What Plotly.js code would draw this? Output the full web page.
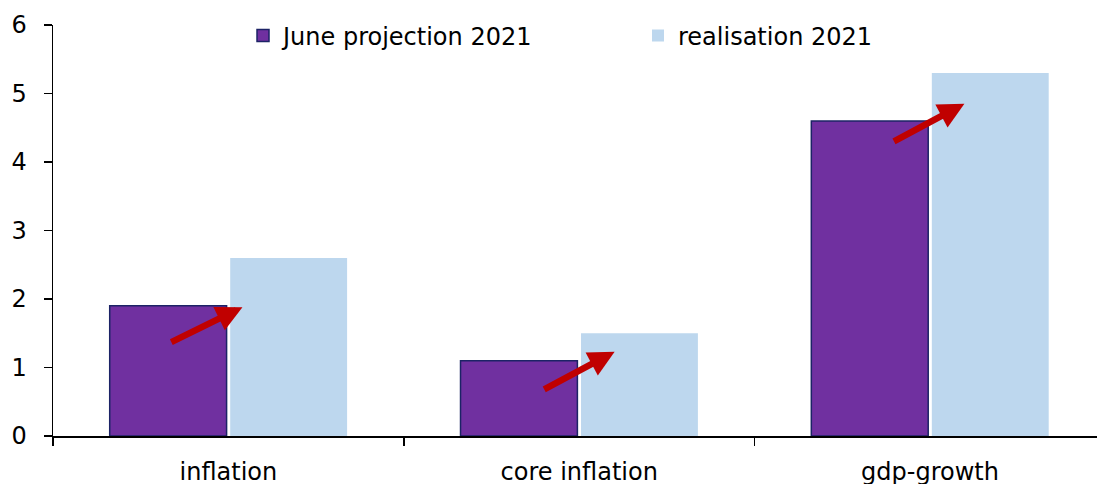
<!DOCTYPE html>
<html>
<head>
<meta charset="utf-8">
<script src="https://cdn.plot.ly/plotly-3.0.1.min.js"></script>
<style>
html,body{margin:0;padding:0;background:#fff;}
#chart{width:1097px;height:484px;}
</style>
</head>
<body>
<div id="chart"></div>
<script>
// Data
const categories = ['inflation', 'core inflation', 'gdp-growth'];
const juneProjection = [1.9, 1.1, 4.6];
const realisation = [2.6, 1.5, 5.3];
const seriesNames = ['June projection 2021', 'realisation 2021'];
const yTicks = [0, 1, 2, 3, 4, 5, 6];
// Arrow annotations: category-index offsets and y values of start and end
const arrowStartX = [-0.167, -0.104, -0.107];
const arrowStartY = [1.36, 0.67, 4.29];
const arrowEndX = [0.04, 0.101, 0.098];
const arrowEndY = [1.88, 1.23, 4.85];

const font = 'DejaVu Sans, Verdana, sans-serif';

const traces = [
  {
    type: 'bar', name: seriesNames[0], x: categories, y: juneProjection,
    marker: {color: '#7030A0', line: {color: '#1C2366', width: 1.5}},
    hoverinfo: 'skip'
  },
  {
    type: 'bar', name: seriesNames[1], x: categories, y: realisation,
    marker: {color: '#BDD7EE', line: {width: 0}},
    hoverinfo: 'skip'
  }
];

const annotations = categories.map((c, i) => ({
  x: i + arrowEndX[i], y: arrowEndY[i],
  ax: i + arrowStartX[i], ay: arrowStartY[i],
  xref: 'x', yref: 'y', axref: 'x', ayref: 'y',
  text: '', showarrow: true,
  arrowhead: 2, arrowsize: 0.8, arrowwidth: 6.5, arrowcolor: '#C00000',
  standoff: 0, startstandoff: 0
}));

const layout = {
  width: 1097, height: 484,
  margin: {l: 53, r: 0, t: 25, b: 48, pad: 0, autoexpand: false},
  paper_bgcolor: '#fff', plot_bgcolor: '#fff',
  font: {family: font, size: 24, color: '#000'},
  barmode: 'group', bargap: 0.313, bargroupgap: 0.03,
  showlegend: true,
  legend: {
    orientation: 'h', x: 0.182, y: 1.028, xanchor: 'left', yanchor: 'top',
    entrywidth: 350, entrywidthmode: 'pixels',
    font: {family: font, size: 24, color: '#000'},
    bgcolor: 'rgba(0,0,0,0)', itemwidth: 30, traceorder: 'normal'
  },
  xaxis: {
    type: 'category', range: [-0.5, 2.476], fixedrange: true,
    showline: true, linecolor: '#000', linewidth: 1.5,
    ticks: 'outside', ticklen: 8, tickwidth: 1.5, tickcolor: '#000',
    tickson: 'boundaries', ticklabelstandoff: 14,
    tickfont: {family: font, size: 24, color: '#000'},
    showgrid: false, zeroline: false
  },
  yaxis: {
    range: [0, 6], tickvals: yTicks, fixedrange: true,
    showline: true, linecolor: '#000', linewidth: 1.5,
    ticks: 'outside', ticklen: 8, tickwidth: 1.5, tickcolor: '#000',
    ticklabelstandoff: 12,
    tickfont: {family: font, size: 24, color: '#000'},
    showgrid: false, zeroline: false
  },
  annotations: annotations
};

Plotly.newPlot('chart', traces, layout, {staticPlot: true, displayModeBar: false});
</script>
</body>
</html>
